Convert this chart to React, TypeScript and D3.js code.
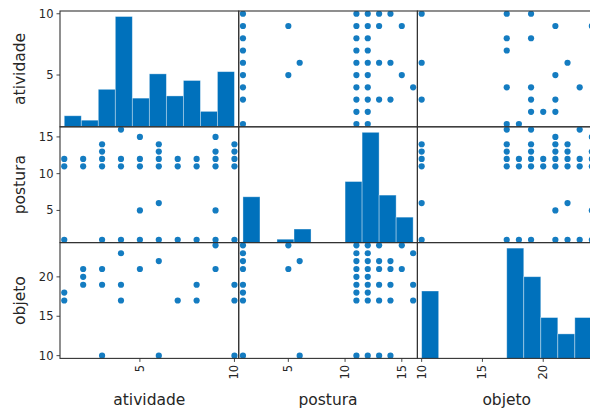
import React from 'react';
import * as d3 from 'd3';

// ---------- data ----------
const variables = ['atividade', 'postura', 'objeto'];
const varExtents: [number, number][] = [[1, 10], [1, 16], [10, 24]];
const tickValues = [[5, 10], [5, 10, 15], [10, 15, 20]];

// histogram counts (10 equal bins between min and max)
const atividadeCounts = [5, 3, 17, 50, 13, 24, 14, 21, 7, 25];
const posturaCounts = [27, 0, 2, 8, 0, 0, 36, 65, 28, 15];
const objetoCounts = [33, 0, 0, 0, 0, 54, 40, 20, 12, 20];

// observed value pairs
const atividadePostura: [number, number[]][] = [
  [1, [1, 11, 12]],
  [2, [11, 12]],
  [3, [1, 11, 12, 13, 14]],
  [4, [1, 11, 12, 16]],
  [5, [1, 5, 11, 12, 15]],
  [6, [1, 6, 11, 12, 13, 14]],
  [7, [1, 11, 12]],
  [8, [1, 11, 12]],
  [9, [1, 5, 11, 12, 13, 15]],
  [10, [1, 11, 12, 13, 14]],
];
const atividadeObjeto: [number, number[]][] = [
  [1, [17, 18]],
  [2, [19, 20, 21]],
  [3, [10, 19, 21]],
  [4, [17, 19, 23]],
  [5, [21]],
  [6, [10, 22]],
  [7, [17]],
  [8, [17, 19]],
  [9, [21, 24]],
  [10, [10, 17, 19]],
];
const posturaObjeto: [number, number[]][] = [
  [1, [10, 17, 18, 19, 21, 22, 23, 24]],
  [5, [21, 24]],
  [6, [10, 22]],
  [11, [10, 17, 18, 19, 20, 21, 22, 23, 24]],
  [12, [10, 17, 18, 19, 20, 21, 22, 23, 24]],
  [13, [10, 17, 19, 21, 22, 24]],
  [14, [10, 17, 19, 21, 22]],
  [15, [21, 24]],
  [16, [17, 19, 23]],
];

// ---------- layout ----------
const W = 590;
const H = 412;
const LEFT = 60;
const TOP = 11;
const COLW = 178.7;
const ROWH = 115.8;
const BLUE = '#0071bc';
const TEXT = '#262626';
const FONT = 'DejaVu Sans';

const histCounts = [atividadeCounts, posturaCounts, objetoCounts];

function expand(p: [number, number[]][]): [number, number][] {
  const out: [number, number][] = [];
  p.forEach(([a, bs]) => bs.forEach((b) => out.push([a, b])));
  return out;
}
const pairs: Record<string, [number, number][]> = {
  '0-1': expand(atividadePostura),
  '0-2': expand(atividadeObjeto),
  '1-2': expand(posturaObjeto),
};

function padded([mn, mx]: [number, number]): [number, number] {
  const e = ((mx - mn) * 0.05) / 2;
  return [mn - e, mx + e];
}

export default function App() {
  const n = variables.length;
  const colX = d3.range(n).map((j) => LEFT + j * COLW);
  const rowY = d3.range(n).map((i) => TOP + i * ROWH);
  const xS = d3.range(n).map((j) =>
    d3.scaleLinear().domain(padded(varExtents[j])).range([colX[j], colX[j] + COLW])
  );
  const yS = d3.range(n).map((i) =>
    d3.scaleLinear().domain(padded(varExtents[i])).range([rowY[i] + ROWH, rowY[i]])
  );
  const bottom = TOP + n * ROWH;

  const panels: React.ReactNode[] = [];
  for (let i = 0; i < n; i++) {
    for (let j = 0; j < n; j++) {
      const id = `clip-${i}-${j}`;
      let content: React.ReactNode;
      if (i === j) {
        const counts = histCounts[i];
        const [mn, mx] = varExtents[i];
        const edges = d3.range(counts.length + 1).map((k) => mn + (k * (mx - mn)) / counts.length);
        const hy = d3
          .scaleLinear()
          .domain([0, (d3.max(counts) as number) * 1.05])
          .range([rowY[i] + ROWH, rowY[i]]);
        content = counts.map((c, k) =>
          c > 0 ? (
            <rect
              key={k}
              x={xS[j](edges[k])}
              y={hy(c)}
              width={xS[j](edges[k + 1]) - xS[j](edges[k])}
              height={hy(0) - hy(c)}
              fill={BLUE}
              stroke="rgba(255,255,255,0.45)"
              strokeWidth={0.8}
            />
          ) : null
        );
      } else {
        const key = `${Math.min(i, j)}-${Math.max(i, j)}`;
        const pts = pairs[key];
        content = pts.map(([lo, hi], k) => {
          const xv = j < i ? lo : hi;
          const yv = j < i ? hi : lo;
          return <circle key={k} cx={xS[j](xv)} cy={yS[i](yv)} r={3.1} fill={BLUE} fillOpacity={0.92} />;
        });
      }
      panels.push(
        <g key={`${i}-${j}`}>
          <clipPath id={id}>
            <rect x={colX[j]} y={rowY[i]} width={COLW} height={ROWH} />
          </clipPath>
          <g clipPath={`url(#${id})`}>{content}</g>
          <rect
            x={colX[j]}
            y={rowY[i]}
            width={COLW}
            height={ROWH}
            fill="none"
            stroke="#333"
            strokeWidth={1.1}
          />
        </g>
      );
    }
  }

  // y ticks (left column)
  const yTicks: React.ReactNode[] = [];
  for (let i = 0; i < n; i++) {
    tickValues[i].forEach((t) => {
      const y = yS[i](t);
      yTicks.push(
        <g key={`yt-${i}-${t}`}>
          <line x1={LEFT - 3.5} x2={LEFT} y1={y} y2={y} stroke="#333" strokeWidth={0.9} />
          <text
            x={LEFT - 6.5}
            y={y}
            textAnchor="end"
            dominantBaseline="central"
            fontSize={11.5}
            fontFamily={FONT}
            fill={TEXT}
          >
            {t}
          </text>
        </g>
      );
    });
  }

  // x ticks (bottom row), rotated labels
  const xTicks: React.ReactNode[] = [];
  for (let j = 0; j < n; j++) {
    tickValues[j].forEach((t) => {
      const x = xS[j](t);
      const ty = bottom + 6.5;
      xTicks.push(
        <g key={`xt-${j}-${t}`}>
          <line x1={x} x2={x} y1={bottom} y2={bottom + 3.5} stroke="#333" strokeWidth={0.9} />
          <text
            x={x}
            y={ty}
            transform={`rotate(-90 ${x} ${ty})`}
            textAnchor="end"
            dominantBaseline="central"
            fontSize={11.5}
            fontFamily={FONT}
            fill={TEXT}
          >
            {t}
          </text>
        </g>
      );
    });
  }

  const labels: React.ReactNode[] = [];
  variables.forEach((v, k) => {
    const cx = colX[k] + COLW / 2;
    const cy = rowY[k] + ROWH / 2;
    labels.push(
      <text
        key={`xl-${v}`}
        x={cx}
        y={405}
        textAnchor="middle"
        fontSize={15.5}
        fontFamily={FONT}
        fill={TEXT}
      >
        {v}
      </text>
    );
    labels.push(
      <text
        key={`yl-${v}`}
        x={25}
        y={cy}
        transform={`rotate(-90 25 ${cy})`}
        textAnchor="middle"
        fontSize={15.5}
        fontFamily={FONT}
        fill={TEXT}
      >
        {v}
      </text>
    );
  });

  return (
    <svg
      width={W}
      height={H}
      style={{ position: 'absolute', left: 0, top: 0, background: '#fff' }}
    >
      <rect x={0} y={0} width={W} height={H} fill="#fff" />
      {panels}
      {yTicks}
      {xTicks}
      {labels}
    </svg>
  );
}
